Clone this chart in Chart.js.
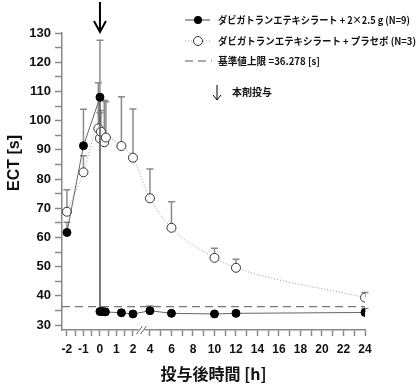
<!DOCTYPE html>
<html>
<head>
<meta charset="utf-8">
<script src="https://cdn.jsdelivr.net/npm/chart.js@4"></script>
<style>
  body { margin: 0; background: #fff; }
</style>
</head>
<body>
<canvas id="grafico" width="420" height="390"></canvas>
<script>
// Datos (horas reales)
const horasA = [-2, -1, 0, 0, 0.17, 0.33, 1.3, 2, 4, 6, 10, 12, 24];
const ectA = [61.7, 91.4, 108, 34.6, 34.6, 34.5, 34.2, 33.8, 34.9, 34.0, 33.8, 34.0, 34.3];
const ectASup = [65.2, 103.9, 127.5, 35.5, 35.5, 35.3, 35.0, 34.5, 36.5, 34.8, 34.5, 34.7, 35.7];

const horasB = [-2, -1, -0.1, 0, 0.06, 0.26, 0.36, 1.3, 2, 4, 6, 10, 12, 24];
const ectB = [68.8, 82.3, 97.3, 93.9, 96.2, 92.6, 94.2, 91.3, 87.3, 73.4, 63.3, 53.0, 49.6, 39.4];
const ectBSup = [76.3, 88.0, 113.0, 102.7, 103.5, 107.0, 106.5, 108.2, 104.0, 83.4, 72.2, 56.3, 52.5, 41.1];

const limiteSup = 36.278;

const etiquetasLeyenda = [
  'ダビガトランエテキシラート + 2×2.5 g (N=9)',
  'ダビガトランエテキシラート + プラセボ (N=3)',
  '基準値上限 =36.278 [s]',
  '本剤投与'
];
const tituloY = 'ECT [s]';

// ticks del eje x (horas) - mayores con etiqueta, menores sin
const ticksHoras = [-2, -1.5, -1, -0.5, 0, 0.5, 1, 1.5, 2,
  4, 5, 6, 7, 8, 9, 10, 11, 12, 13, 14, 15, 16, 17, 18, 19, 20, 21, 22, 23, 24];
const etiquetasX = [-2, -1, 0, 1, 2, 4, 6, 8, 10, 12, 14, 16, 18, 20, 22, 24];
const ticksY = [30, 35, 40, 45, 50, 55, 60, 65, 70, 75, 80, 85, 90, 95, 100, 105, 110, 115, 120, 125, 130];

// eje con corte entre 2 h y 4 h
const corte = h => h <= 2 ? h : 3.03 + (h - 4) * 0.6515;

const puntos = (hs, vs) => hs.map((h, i) => ({ x: corte(h), y: vs[i] }));

const barrasError = {
  id: 'barrasError',
  beforeDatasetsDraw(chart) {
    const ctx = chart.ctx;
    const y = chart.scales.y;
    const sup = [ectASup, ectBSup];
    ctx.save();
    ctx.strokeStyle = '#8a8a8a';
    ctx.lineWidth = 1.5;
    [0, 1].forEach(d => {
      chart.getDatasetMeta(d).data.forEach((p, i) => {
        const yt = y.getPixelForValue(sup[d][i]);
        ctx.beginPath();
        ctx.moveTo(p.x, p.y);
        ctx.lineTo(p.x, yt);
        ctx.moveTo(p.x - 3.5, yt);
        ctx.lineTo(p.x + 3.5, yt);
        ctx.stroke();
      });
    });
    ctx.restore();
  },
  afterDraw(chart) {
    const ctx = chart.ctx;
    const x = chart.scales.x;
    const area = chart.chartArea;
    ctx.save();
    // corte del eje x
    const m = (x.getPixelForValue(corte(2)) + x.getPixelForValue(corte(4))) / 2;
    ctx.fillStyle = '#fff';
    ctx.fillRect(m - 3, area.bottom - 2, 6, 4);
    ctx.strokeStyle = '#666';
    ctx.lineWidth = 1;
    ctx.beginPath();
    ctx.moveTo(m - 5, area.bottom + 4); ctx.lineTo(m + 1, area.bottom - 4);
    ctx.moveTo(m - 1, area.bottom + 4); ctx.lineTo(m + 5, area.bottom - 4);
    ctx.stroke();

    // flecha de dosis
    const x0 = x.getPixelForValue(corte(0));
    ctx.strokeStyle = '#000';
    ctx.lineWidth = 2;
    ctx.beginPath();
    ctx.moveTo(x0, 2); ctx.lineTo(x0, area.top - 1);
    ctx.moveTo(x0 - 6, area.top - 12); ctx.lineTo(x0, area.top - 1); ctx.lineTo(x0 + 6, area.top - 12);
    ctx.stroke();

    // título del eje y
    ctx.save();
    ctx.translate(15, 163);
    ctx.rotate(-Math.PI / 2);
    ctx.font = 'bold 16px "Liberation Sans", Arial';
    ctx.fillStyle = '#111';
    ctx.textAlign = 'center';
    ctx.textBaseline = 'middle';
    ctx.fillText(tituloY, 0, 0);
    ctx.restore();

    // leyenda
    const lx = 185, tx = 218;
    const filas = [20, 41, 61];
    const anchos = [192, 198, 102];
    ctx.font = 'bold 10px "Noto Sans CJK JP"';
    ctx.textBaseline = 'middle';
    ctx.fillStyle = '#111';
    ctx.lineWidth = 1;
    // fila 1
    ctx.strokeStyle = '#444';
    ctx.beginPath(); ctx.moveTo(lx, filas[0]); ctx.lineTo(lx + 25, filas[0]); ctx.stroke();
    ctx.beginPath(); ctx.arc(lx + 13, filas[0], 4, 0, Math.PI * 2); ctx.fillStyle = '#000'; ctx.fill();
    // fila 2
    ctx.strokeStyle = '#999';
    ctx.setLineDash([1, 2]);
    ctx.beginPath(); ctx.moveTo(lx, filas[1]); ctx.lineTo(lx + 25, filas[1]); ctx.stroke();
    ctx.setLineDash([]);
    ctx.beginPath(); ctx.arc(lx + 13, filas[1], 4.5, 0, Math.PI * 2);
    ctx.fillStyle = '#fff'; ctx.fill(); ctx.strokeStyle = '#333'; ctx.stroke();
    // fila 3
    ctx.strokeStyle = '#555';
    ctx.setLineDash([8, 5]);
    ctx.beginPath(); ctx.moveTo(lx, filas[2]); ctx.lineTo(lx + 27, filas[2]); ctx.stroke();
    ctx.setLineDash([]);
    ctx.fillStyle = '#111';
    filas.forEach((fy, i) => ctx.fillText(etiquetasLeyenda[i], tx, fy, anchos[i]));
    // fila 4: flecha
    ctx.strokeStyle = '#000';
    ctx.lineWidth = 1;
    ctx.beginPath();
    ctx.moveTo(217, 85); ctx.lineTo(217, 100);
    ctx.moveTo(213, 95); ctx.lineTo(217, 100); ctx.lineTo(221, 95);
    ctx.stroke();
    ctx.fillText(etiquetasLeyenda[3], 232, 92);
    ctx.restore();
  }
};

new Chart(document.getElementById('grafico'), {
  type: 'line',
  data: {
    datasets: [
      {
        label: etiquetasLeyenda[0],
        data: puntos(horasA, ectA),
        borderColor: '#666',
        borderWidth: 1,
        pointRadius: 4,
        pointBackgroundColor: '#000',
        pointBorderColor: '#000'
      },
      {
        label: etiquetasLeyenda[1],
        data: puntos(horasB, ectB),
        borderColor: '#9a9a9a',
        borderWidth: 1,
        borderDash: [1, 2],
        cubicInterpolationMode: 'monotone',
        pointRadius: 4.5,
        pointBackgroundColor: '#fff',
        pointBorderColor: '#333',
        pointBorderWidth: 1
      },
      {
        label: etiquetasLeyenda[2],
        data: [{ x: -2.3, y: limiteSup }, { x: corte(24), y: limiteSup }],
        borderColor: '#555',
        borderWidth: 1,
        borderDash: [8, 5],
        pointRadius: 0
      }
    ]
  },
  options: {
    responsive: false,
    animation: false,
    layout: { padding: { top: 33, right: 55, left: 0, bottom: 0 } },
    plugins: {
      legend: { display: false },
      tooltip: { enabled: false }
    },
    scales: {
      x: {
        type: 'linear',
        min: -2.3,
        max: corte(24),
        afterFit: s => { s.height = 60; },
        afterBuildTicks: s => { s.ticks = ticksHoras.map(h => ({ value: corte(h) })); },
        ticks: {
          autoSkip: false,
          maxRotation: 0,
          padding: 6,
          color: '#111',
          font: { family: '"Liberation Sans", Arial', size: 12, weight: 'bold' },
          callback: (v, i) => etiquetasX.includes(ticksHoras[i]) ? String(ticksHoras[i]) : ''
        },
        grid: { drawOnChartArea: false, tickLength: 6, tickColor: '#888', tickWidth: 1.5 },
        border: { color: '#888', width: 1.5 },
        title: {
          display: true,
          text: '投与後時間 [h]',
          color: '#111',
          font: { family: '"Noto Sans CJK JP"', size: 16, weight: 'bold' },
          padding: { top: 0, bottom: 6 }
        }
      },
      y: {
        min: 28.3,
        max: 130,
        afterFit: s => { s.width = 62; },
        afterBuildTicks: s => { s.ticks = ticksY.map(v => ({ value: v })); },
        ticks: {
          autoSkip: false,
          padding: 4,
          color: '#111',
          font: { family: '"Liberation Sans", Arial', size: 13, weight: 'bold' },
          callback: v => v % 10 === 0 ? String(v) : ''
        },
        grid: { drawOnChartArea: false, tickLength: 7, tickColor: '#888', tickWidth: 1.5 },
        border: { color: '#888', width: 1.5 },
        title: { display: false }
      }
    }
  },
  plugins: [barrasError]
});
</script>
</body>
</html>
